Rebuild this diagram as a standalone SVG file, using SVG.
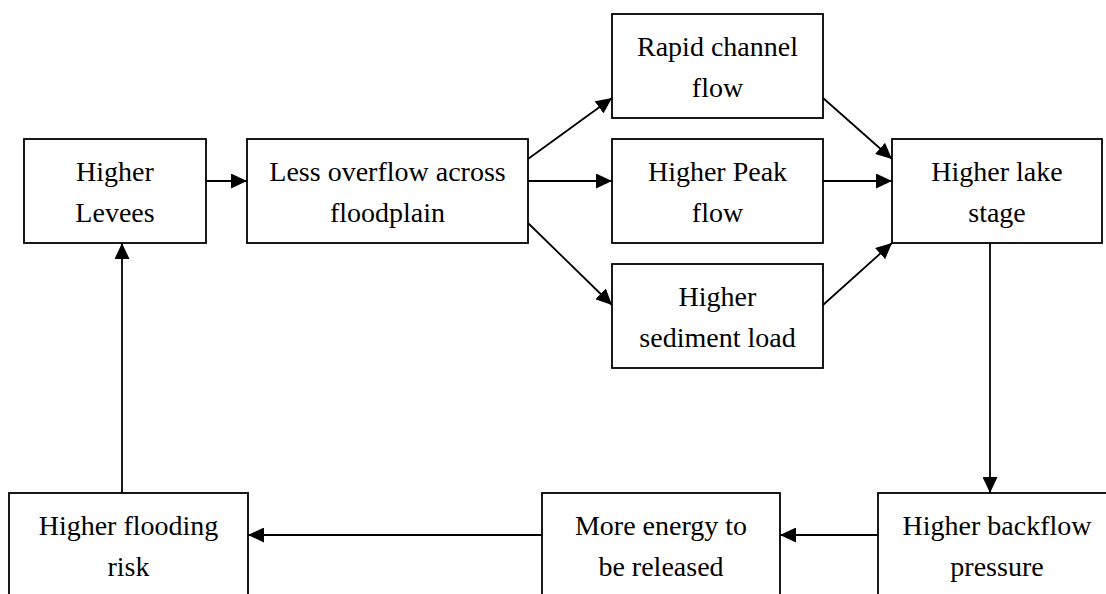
<svg xmlns="http://www.w3.org/2000/svg" width="1106" height="594" viewBox="0 0 1106 594">
<style>
.box{fill:#fff;stroke:#000;stroke-width:1.8}
.t{font-family:'Liberation Serif','Times New Roman',Times,serif;font-size:28px;fill:#000;text-anchor:middle}
.c{stroke:#000;stroke-width:1.8;fill:none;marker-end:url(#ah)}
</style>
<defs>
<marker id="ah" markerUnits="userSpaceOnUse" viewBox="0 0 16 15" refX="16" refY="7.5" markerWidth="16" markerHeight="15" orient="auto">
<path d="M0,0 L16,7.5 L0,15 z" fill="#000"/>
</marker>
</defs>
<rect width="1106" height="594" fill="#fff"/>
<g id="connectors">
<line class="c" x1="206" y1="181" x2="247" y2="181"/>
<line class="c" x1="528" y1="159" x2="612" y2="98"/>
<line class="c" x1="528" y1="181" x2="612" y2="181"/>
<line class="c" x1="528" y1="223" x2="612" y2="305"/>
<line class="c" x1="823" y1="98" x2="892" y2="159"/>
<line class="c" x1="823" y1="181" x2="892" y2="181"/>
<line class="c" x1="823" y1="305" x2="892" y2="243"/>
<line class="c" x1="990" y1="243" x2="990" y2="493"/>
<line class="c" x1="878" y1="535" x2="780" y2="535"/>
<line class="c" x1="542" y1="535" x2="248" y2="535"/>
<line class="c" x1="122" y1="493" x2="122" y2="243"/>
</g>
<g id="higher-levees">
<rect class="box" x="24" y="139" width="182" height="104"/>
<text class="t" x="115" y="181" font-family="Liberation Serif">Higher</text>
<text class="t" x="115" y="222" font-family="Liberation Serif">Levees</text>
</g>
<g id="less-overflow">
<rect class="box" x="247" y="139" width="281" height="104"/>
<text class="t" x="387.5" y="181">Less overflow across</text>
<text class="t" x="387.5" y="222">floodplain</text>
</g>
<g id="rapid-channel-flow">
<rect class="box" x="612" y="14" width="211" height="104"/>
<text class="t" x="717.5" y="56">Rapid channel</text>
<text class="t" x="717.5" y="97">flow</text>
</g>
<g id="higher-peak-flow">
<rect class="box" x="612" y="139" width="211" height="104"/>
<text class="t" x="717.5" y="181">Higher Peak</text>
<text class="t" x="717.5" y="222">flow</text>
</g>
<g id="higher-sediment-load">
<rect class="box" x="612" y="264" width="211" height="104"/>
<text class="t" x="717.5" y="306">Higher</text>
<text class="t" x="717.5" y="347">sediment load</text>
</g>
<g id="higher-lake-stage">
<rect class="box" x="892" y="139" width="210" height="104"/>
<text class="t" x="997" y="181">Higher lake</text>
<text class="t" x="997" y="222">stage</text>
</g>
<g id="higher-backflow-pressure">
<rect class="box" x="878" y="493" width="238" height="104"/>
<text class="t" x="997" y="535">Higher backflow</text>
<text class="t" x="997" y="576">pressure</text>
</g>
<g id="more-energy">
<rect class="box" x="542" y="493" width="238" height="104"/>
<text class="t" x="661" y="535">More energy to</text>
<text class="t" x="661" y="576">be released</text>
</g>
<g id="higher-flooding-risk">
<rect class="box" x="9" y="493" width="239" height="104"/>
<text class="t" x="128.5" y="535">Higher flooding</text>
<text class="t" x="128.5" y="576">risk</text>
</g>
</svg>
